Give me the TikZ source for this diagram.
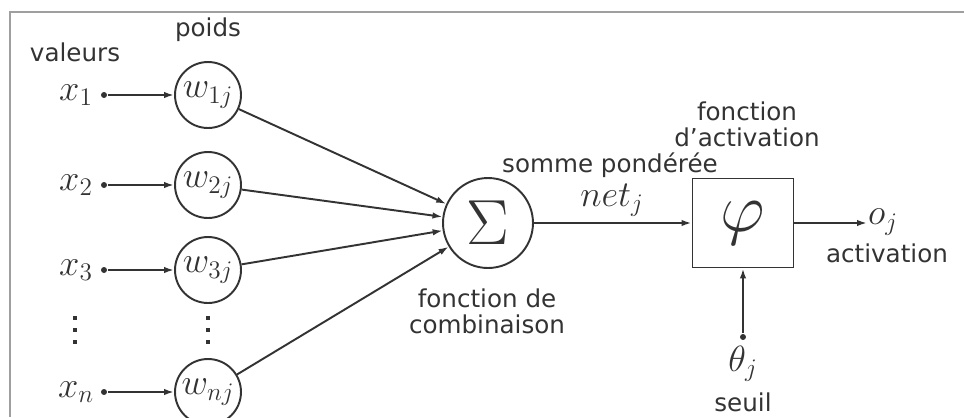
\documentclass[tikz,border=0pt]{standalone}
\usepackage{graphicx}
\usepackage{fontspec}
\setmainfont{DejaVu Sans}
\usetikzlibrary{arrows.meta}
\definecolor{ink}{HTML}{333333}
\begin{document}
\begin{tikzpicture}
[x=0.02cm, y=-0.02cm, color=ink, line width=1.1pt,
  weightnode/.style={shape=circle,draw,minimum size=1.32cm,inner sep=0pt,
    font=\fontsize{20}{22}\selectfont},
  sumnode/.style={shape=circle,draw,minimum size=1.8cm,inner sep=0pt,
    font=\fontsize{20}{22}\selectfont},
  actnode/.style={shape=rectangle,draw,minimum width=2.02cm,minimum height=1.78cm,
    inner sep=0pt,font=\fontsize{20}{22}\selectfont},
  dotdecorate/.style={shape=circle,fill,inner sep=0pt,minimum size=0.12cm},
  vdotdecorate/.style={shape=rectangle,fill,inner sep=0pt,minimum size=0.09cm},
  mathdecorate/.style={inner sep=0pt,font=\fontsize{20}{22}\selectfont},
  textdecorate/.style={inner sep=0pt,align=center,font=\fontsize{14}{15}\selectfont},
  linedecorate/.style={-{Latex[length=2mm,width=1.3mm]}}]
\useasboundingbox (0,0) rectangle (964,417);
%% frame
\draw[gray!75, line width=1.3pt] (964,12) -- (10,12) -- (10,417);
%% inputs, weights
\foreach \nodename/\y in {1/95, 2/185, 3/270, n/392}
{
  \node (x\nodename) at (76,\y) [mathdecorate] {$x_{\nodename}$};
  \node (d\nodename) at (104,\y) [dotdecorate] {};
  \node (w\nodename) at (208,\y) [weightnode] {$w_{\nodename j}$};
}
%% dots between x3 and xn
\foreach \nodename/\x/\y in {xa/75/318, xb/75/330, xc/75/342,
  wa/208/318, wb/208/330, wc/208/342}
{
  \node (\nodename) at (\x,\y) [vdotdecorate] {};
}
%% sum, activation
\node (sum) at (488,223) [sumnode] {\scalebox{1.75}{$\Sigma$}};
\node (phi) at (743,223) [actnode] {\scalebox{1.9}{$\varphi$}};
\node (thdot) at (743,337) [dotdecorate] {};
\coordinate (out) at (867,223);
\node (oj) at (883,222) [mathdecorate] {$o_j$};
\node (net) at (612,200) [mathdecorate] {$net_j$};
\node (theta) at (743,364) [mathdecorate] {$\theta_j$};
%% texts
\foreach \nodename/\x/\y/\txt in {valeurs/75/52/valeurs, poids/208/30/poids,
  somme/610/165/somme pondérée, combi/487/311/fonction de\\combinaison,
  fact/747/124/fonction\\d’activation, activ/887/253/activation,
  seuil/743/402/seuil}
{
  \node (t\nodename) at (\x,\y) [textdecorate] {\txt};
}
%% edges
\path
\foreach \startnode/\endnode in {d1/w1, d2/w2, d3/w3, dn/wn,
  w1/sum, w2/sum, w3/sum, wn/sum, sum/phi, phi/out, thdot/phi} {
  (\startnode) edge[linedecorate] (\endnode)
};
\end{tikzpicture}
\end{document}
